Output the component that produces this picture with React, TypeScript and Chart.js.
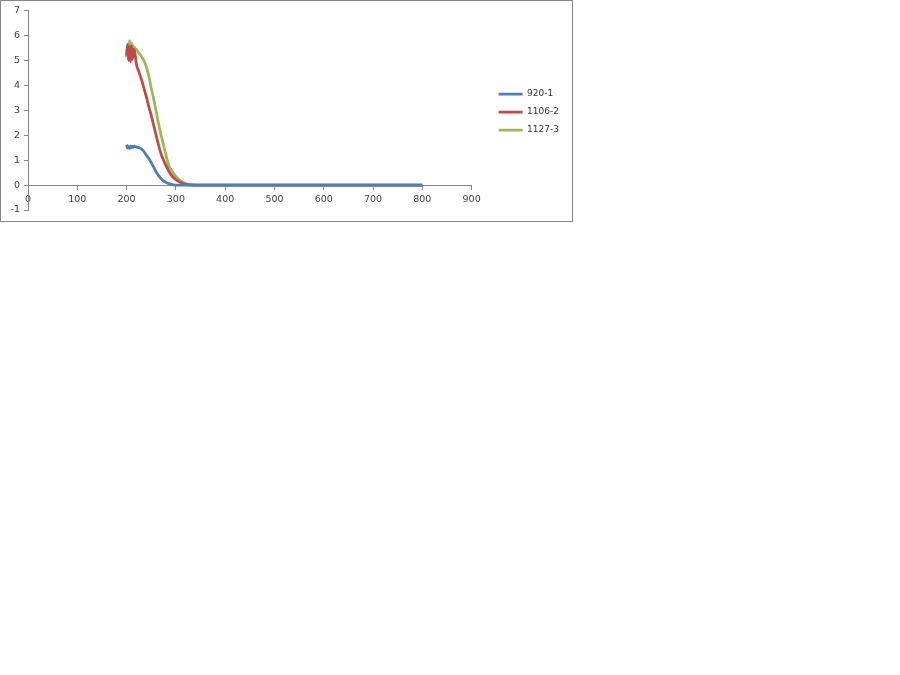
import React, { useEffect, useRef } from "react";
import { Chart, registerables } from "chart.js";

Chart.register(...registerables);

const wavelengths = [
  200, 202, 204, 206, 208, 210, 212, 214, 216, 218, 220, 225, 230, 235, 240, 245,
  250, 255, 260, 265, 270, 275, 280, 285, 290, 295, 300, 310, 320, 330, 340, 350,
  400, 500, 600, 700, 800,
];

const series920 = [
  1.62, 1.48, 1.55, 1.47, 1.56, 1.5, 1.55, 1.52, 1.56, 1.54, 1.53, 1.5, 1.45, 1.35,
  1.2, 1.07, 0.9, 0.72, 0.53, 0.38, 0.26, 0.17, 0.11, 0.06, 0.03, 0.01, 0, 0,
  0, 0, 0, 0, 0, 0, 0, 0, 0,
];

const series1106 = [
  5.2, 5.65, 5.0, 5.55, 4.95, 5.6, 5.05, 5.45, 5.4, 5.15, 4.85, 4.55, 4.25, 3.9,
  3.55, 3.15, 2.8, 2.4, 2.0, 1.6, 1.25, 1.0, 0.78, 0.58, 0.42, 0.3, 0.22, 0.1,
  0.03, 0.01, 0, 0, 0, 0, 0, 0, 0,
];

const series1127 = [
  5.15, 5.6, 5.25, 5.8, 5.55, 5.7, 5.6, 5.55, 5.52, 5.48, 5.45, 5.3, 5.17, 5.0,
  4.75, 4.4, 3.9, 3.45, 2.95, 2.45, 2.0, 1.6, 1.2, 0.82, 0.62, 0.47, 0.35, 0.16,
  0.06, 0.02, 0, 0, 0, 0, 0, 0, 0,
];

const seriesNames = ["920-1", "1106-2", "1127-3"];
const seriesColors = ["#4A7EBB", "#BE4B48", "#98B954"];
const xTicks = [0, 100, 200, 300, 400, 500, 600, 700, 800, 900];
const yTicks = [-1, 0, 1, 2, 3, 4, 5, 6, 7];

const legendShift = {
  id: "legendShift",
  afterLayout(chart: any) {
    const l = chart.legend;
    if (l) {
      l.left += 18;
      l.right += 18;
      l.top += 2;
      l.bottom += 2;
    }
  },
};

export default function App() {
  const ref = useRef<HTMLCanvasElement | null>(null);

  useEffect(() => {
    if (!ref.current) return;
    const all = [series920, series1106, series1127];
    const chart = new Chart(ref.current, {
      type: "line",
      data: {
        datasets: all.map((s, i) => ({
          label: seriesNames[i],
          data: wavelengths.map((x, j) => ({ x, y: s[j] })),
          borderColor: seriesColors[i],
          backgroundColor: seriesColors[i],
          borderWidth: 2.75,
          pointRadius: 0,
          cubicInterpolationMode: "monotone" as const,
          fill: false,
        })),
      },
      options: {
        responsive: false,
        animation: false,
        layout: { padding: { left: 0, top: 9, bottom: 11, right: 21 } },
        plugins: {
          tooltip: { enabled: false },
          legend: {
            position: "right",
            labels: {
              usePointStyle: true,
              pointStyle: "line",
              pointStyleWidth: 24,
              boxHeight: 3,
              font: { family: "DejaVu Sans", size: 9 },
              color: "#333333",
              padding: 9,
            },
          },
        },
        scales: {
          x: {
            type: "linear",
            position: { y: 0 },
            min: 0,
            max: 900,
            afterBuildTicks: (s: any) => {
              s.ticks = xTicks.map((v) => ({ value: v }));
            },
            grid: { display: true, drawOnChartArea: false, drawTicks: true, tickLength: 4, color: "#868686" },
            border: { display: true, color: "#868686" },
            ticks: {
              font: { family: "DejaVu Sans", size: 9.5 },
              color: "#404040",
              padding: 5,
              maxRotation: 0,
              autoSkip: false,
            },
          },
          y: {
            type: "linear",
            min: -1,
            max: 7,
            afterBuildTicks: (s: any) => {
              s.ticks = yTicks.map((v) => ({ value: v }));
            },
            afterFit: (s: any) => {
              s.width = 27;
            },
            grid: { display: true, drawOnChartArea: false, drawTicks: true, tickLength: 4, color: "#868686" },
            border: { display: true, color: "#868686" },
            ticks: {
              font: { family: "DejaVu Sans", size: 9.5 },
              color: "#404040",
              padding: 4,
            },
          },
        },
      },
      plugins: [legendShift],
    });
    return () => chart.destroy();
  }, []);

  return (
    <div
      style={{
        position: "absolute",
        left: 0,
        top: 0,
        width: 573,
        height: 222,
        border: "1px solid #868686",
        boxSizing: "border-box",
        background: "#fff",
      }}
    >
      <canvas ref={ref} width={571} height={220} style={{ display: "block" }} />
    </div>
  );
}
